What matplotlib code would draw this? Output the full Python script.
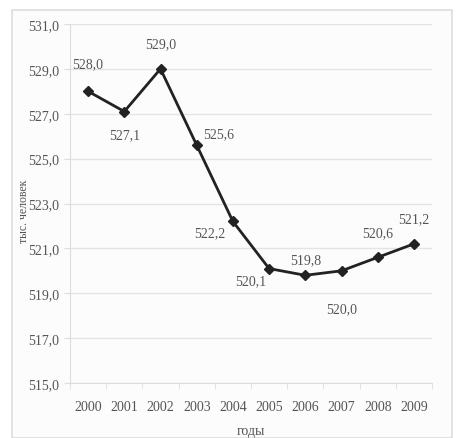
import matplotlib
matplotlib.use("Agg")
import matplotlib.pyplot as plt
from matplotlib.patches import Rectangle

years = ["2000", "2001", "2002", "2003", "2004", "2005", "2006", "2007", "2008", "2009"]
values = [528.0, 527.1, 529.0, 525.6, 522.2, 520.1, 519.8, 520.0, 520.6, 521.2]
# label offsets in points (dx, dy)
offsets = [(0, 20), (0, -17), (0, 18), (16, 8), (-17, -8), (-13, -9), (0, 11), (0, -27), (0, 18), (0, 18)]
yticks = [515, 517, 519, 521, 523, 525, 527, 529, 531]

plt.rcParams["font.family"] = ["Liberation Serif", "DejaVu Serif"]
txt = "#555555"

fig = plt.figure(figsize=(4.57, 4.39), dpi=100)
fig.patch.set_facecolor("white")
W, H = 457, 439
fig.add_artist(Rectangle((12 / W, 0), 440 / W, 1 - 11 / H, transform=fig.transFigure,
                         facecolor="#fcfcfc", edgecolor="#dddddd", lw=1.2, zorder=-10))

ax = fig.add_axes([70 / W, 1 - 384 / H, 362 / W, (384 - 25) / H])
ax.set_facecolor("#fcfcfc")
x = list(range(len(years)))
ax.plot(x, values, color="#222222", lw=2, marker="D", ms=5, zorder=3)

for i, v in enumerate(values):
    ax.annotate(f"{v:.1f}".replace(".", ","), (i, v), xytext=offsets[i], textcoords="offset points",
                ha="center", va="center", fontsize=10, color=txt)

ax.set_xlim(-0.5, 9.5)
ax.set_ylim(515, 531)
ax.set_yticks(yticks)
ax.set_yticklabels([f"{t},0" for t in yticks], fontsize=10, color=txt)
ax.set_xticks(x)
ax.set_xticklabels(years, fontsize=10, color=txt)
ax.set_xticks([i - 0.5 for i in range(11)], minor=True)
ax.tick_params(axis="x", which="major", length=0, pad=12)
ax.tick_params(axis="x", which="minor", length=4, color="#dddddd")
ax.tick_params(axis="y", length=4, color="#dddddd", pad=4)
ax.grid(axis="y", color="#e4e4e4", lw=1)
ax.set_axisbelow(True)
for s in ["top", "right"]:
    ax.spines[s].set_visible(False)
for s in ["left", "bottom"]:
    ax.spines[s].set_color("#dddddd")

ax.set_xlabel("годы", fontsize=10, color=txt, labelpad=8)
ax.set_ylabel("тыс. человек", fontsize=8.5, color=txt)
ax.yaxis.set_label_coords(-0.11, 0.48)

fig.savefig("out.png", dpi=100)
